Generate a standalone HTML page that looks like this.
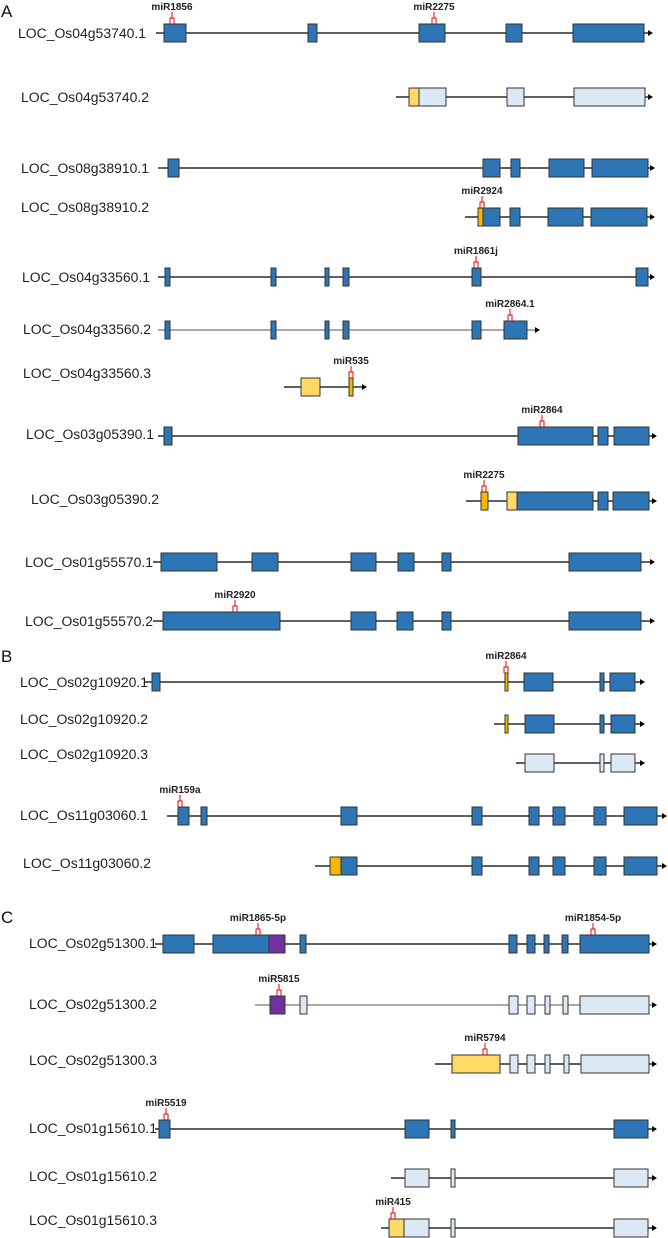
<!DOCTYPE html>
<html><head><meta charset="utf-8"><style>
html,body{margin:0;padding:0;background:#fff;}
svg{display:block;}
.g{font-family:"Liberation Sans",Arial,sans-serif;font-size:13.5px;fill:#222;}
.m{font-family:"Liberation Sans",Arial,sans-serif;font-size:10px;font-weight:bold;fill:#222;text-anchor:middle;}
.p{font-family:"Liberation Sans",Arial,sans-serif;font-size:17px;fill:#111;}
</style></head><body>
<svg id="s" width="668" height="1238" xmlns="http://www.w3.org/2000/svg">
<text class="p" x="1" y="17">A</text>
<text class="p" x="1" y="662">B</text>
<text class="p" x="1" y="923">C</text>
<g id="c"></g>
</svg>
<script>
var S="http://www.w3.org/2000/svg",g=document.getElementById('c');
function el(n,a,t){var e=document.createElementNS(S,n);for(var k in a)e.setAttribute(k,a[k]);if(t)e.textContent=t;g.appendChild(e);return e;}
var F={B:'#2e75b6',L:'#dde8f5',Y:'#ffd966',O:'#f5b800',P:'#7030a0'};
// [label, lx, ly, y, lineStart, lineEnd, lineColor, boxes, mirs]
var R=[
["LOC_Os04g53740.1",18,33,33,156,648,'#000',"B164-186 B308-317 B419-445 B506-522 B573-644",[[172,"miR1856"],[434,"miR2275"]]],
["LOC_Os04g53740.2",21,97,97,396,648,'#000',"Y409-419 L419-446 L507-524 L574-645",[]],
["LOC_Os08g38910.1",21,168,168,158,650,'#000',"B168-179 B483-500 B511-520 B549-584 B592-648",[]],
["LOC_Os08g38910.2",21,207,217,465,650,'#000',"O478-483 B483-500 B510-520 B548-583 B591-647",[[482,"miR2924"]]],
["LOC_Os04g33560.1",22,277,277,158,650,'#000',"B165-170 B271-276 B325-329 B343-349 B472-481 B636-648",[[476,"miR1861j"]]],
["LOC_Os04g33560.2",23,329,330,158,535,'#777',"B165-170 B271-276 B325-329 B343-349 B472-481 B504-527",[[510,"miR2864.1"]]],
["LOC_Os04g33560.3",23,373,387,284,362,'#000',"Y301-320 O349-353",[[351,"miR535"]]],
["LOC_Os03g05390.1",26,434,436,158,652,'#000',"B164-172 B518-593 B598-608 B614-649",[[542,"miR2864"]]],
["LOC_Os03g05390.2",31,499,501,466,652,'#000',"O481-488 Y507-517 B517-593 B598-608 B613-649",[[484,"miR2275"]]],
["LOC_Os01g55570.1",25,562,562,153,650,'#000',"B161-217 B252-278 B351-376 B398-414 B442-451 B569-641",[]],
["LOC_Os01g55570.2",25,621,621,153,650,'#000',"B163-280 B351-376 B397-413 B442-451 B569-641",[[235,"miR2920"]]],
["LOC_Os02g10920.1",20,682,682,145,640,'#000',"B152-160 O505-508 B524-553 B600-604 B610-635",[[506,"miR2864"]]],
["LOC_Os02g10920.2",20,719,724,494,640,'#000',"O505-508 B525-554 B600-604 B611-635",[]],
["LOC_Os02g10920.3",20,754,763,516,640,'#000',"L525-554 L600-604 L611-635",[]],
["LOC_Os11g03060.1",20,815,816,167,662,'#000',"B178-189 B201-207 B341-357 B472-482 B529-539 B553-565 B594-606 B624-657",[[180,"miR159a"]]],
["LOC_Os11g03060.2",23,863,866,315,662,'#000',"O330-341 B341-357 B472-482 B529-539 B553-565 B594-606 B624-657",[]],
["LOC_Os02g51300.1",29,943,944,155,652,'#000',"B163-194 B213-269 P269-285 B300-306 B509-517 B527-535 B544-549 B562-568 B580-649",[[258,"miR1865-5p"],[593,"miR1854-5p"]]],
["LOC_Os02g51300.2",29,1004,1005,255,652,'#777',"P270-285 L300-307 L509-518 L527-535 L545-550 L563-568 L580-649",[[279,"miR5815"]]],
["LOC_Os02g51300.3",29,1060,1064,435,652,'#000',"Y452-500 L510-518 L527-535 L545-550 L564-569 L581-649",[[485,"miR5794"]]],
["LOC_Os01g15610.1",29,1128,1129,155,652,'#000',"B159-170 B405-429 B451-455 B614-648",[[166,"miR5519"]]],
["LOC_Os01g15610.2",29,1176,1178,391,652,'#000',"L405-429 L451-455 L614-648",[]],
["LOC_Os01g15610.3",29,1220,1228,381,652,'#000',"Y389-404 L404-429 L451-455 L614-648",[[393,"miR415"]]]
];
R.forEach(function(r){
 var y=r[3];
 el('text',{'class':'g',x:r[1],y:r[2]+5,textLength:128,lengthAdjust:'spacingAndGlyphs'},r[0]);
 el('line',{x1:r[4],y1:y,x2:r[5],y2:y,stroke:r[6],'stroke-width':1.2});
 el('path',{d:'M'+r[5]+' '+(y-3)+'L'+(r[5]+5)+' '+y+'L'+r[5]+' '+(y+3)+'Z',fill:'#000'});
 r[7].split(' ').forEach(function(b){
  var c=b[0],p=b.slice(1).split('-'),a=+p[0],e=+p[1];
  el('rect',{x:a,y:y-9,width:e-a,height:18,fill:F[c],stroke:'#333','stroke-width':1});
 });
 r[8].forEach(function(m){
  var x=m[0];
  el('text',{'class':'m',x:x,y:y-23},m[1]);
  el('path',{d:'M'+x+' '+(y-21)+'V'+(y-15)+'M'+(x-2)+' '+(y-9)+'V'+(y-15)+'H'+(x+2)+'V'+(y-9),stroke:'#e00',fill:'none','stroke-width':1});
 });
});
</script>
</body></html>
